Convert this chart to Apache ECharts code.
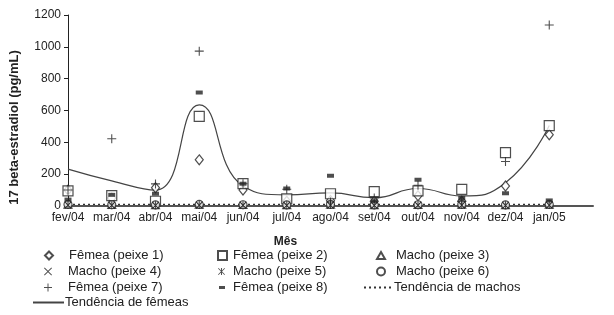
<!DOCTYPE html>
<html><head><meta charset="utf-8">
<script src="https://cdn.jsdelivr.net/npm/echarts@6/dist/echarts.min.js"></script>
<style>html,body{margin:0;padding:0;background:#fff}#c{width:614px;height:315px}</style>
</head><body><div id="c"></div>
<script>
const months = ['fev/04','mar/04','abr/04','mai/04','jun/04','jul/04','ago/04','set/04','out/04','nov/04','dez/04','jan/05'];
const yTicks = [0,200,400,600,800,1000,1200];
const femea1 = [100, 50, 115, 290, 100, 30, 35, 30, 65, 30, 126, 448];
const femea2 = [95, 65, 30, 563, 140, 45, 77, 90, 95, 105, 335, 505];
const macho3 = [8, 6, 5, 8, 6, 5, 8, 5, 6, 8, 5, 8];
const macho4 = [5, 4, 3, 5, 4, 3, 5, 3, 4, 5, 3, 5];
const macho5 = [6, 5, 4, 6, 5, 4, 6, 4, 5, 6, 4, 6];
const macho6 = [10, 8, 7, 10, 8, 7, 10, 7, 8, 10, 7, 10];
const femea7 = [100, 423, 139, 973, 140, 105, 25, 50, 130, 30, 280, 1137];
const femea8 = [40, 70, 77, 713, 140, 110, 190, 30, 165, 50, 80, 35];
const trendMachos = [10, 10, 10, 10, 10, 10, 10, 10, 10, 10, 10, 10];
const trendFemeas = [232, 158, 100, 635, 126, 70, 82, 52, 110, 63, 146, 505];

const FONT = '"Liberation Sans", Arial, sans-serif';
const INK = '#222';
const P_PLUS = 'path://M4.4,0H5.6V4.4H10V5.6H5.6V10H4.4V5.6H0V4.4H4.4Z';
const P_X = 'path://M0.8,0L5,4.2L9.2,0L10,0.8L5.8,5L10,9.2L9.2,10L5,5.8L0.8,10L0,9.2L4.2,5L0,0.8Z';
const P_AST = 'path://M0.8,0L5,4.2L9.2,0L10,0.8L5.8,5L10,9.2L9.2,10L5,5.8L0.8,10L0,9.2L4.2,5L0,0.8Z M4.3,0H5.7V10H4.3Z';
const P_DASH = 'path://M0,0H10V5H0Z';

function scat(name, data, symbol, size, hollow) {
  return {
    name, type: 'scatter', data, symbol, symbolSize: size,
    itemStyle: hollow ? {color: '#fff', borderColor: '#222', borderWidth: 1.2}
                      : {color: '#222', borderWidth: 0},
    z: hollow ? 3 : 4
  };
}

const series = [
  scat('Fêmea (peixe 1)', femea1, 'diamond', [8, 10], true),
  scat('Fêmea (peixe 2)', femea2, 'rect', [10, 10], true),
  scat('Macho (peixe 3)', macho3, 'triangle', [8, 7], true),
  scat('Macho (peixe 4)', macho4, P_X, [7, 7], false),
  scat('Macho (peixe 5)', macho5, P_AST, [7, 8], false),
  scat('Macho (peixe 6)', macho6, 'circle', [8, 8], true),
  scat('Fêmea (peixe 7)', femea7, P_PLUS, [9, 9], false),
  scat('Fêmea (peixe 8)', femea8, P_DASH, [7, 4], false),
  {name: 'Tendência de machos', type: 'line', data: trendMachos, symbol: 'none', color: '#333',
   lineStyle: {color: '#333', width: 1.2, type: [2, 3]}, z: 2},
  {name: 'Tendência de fêmeas', type: 'line', data: trendFemeas, symbol: 'none', smooth: 0.5, color: '#444',
   lineStyle: {color: '#444', width: 1.2}, z: 2}
];

// [name, left, top, iconW, iconH, textPadLeft, isLine]
const legendPos = [
  ['Fêmea (peixe 1)', 44, 249, 8, 8, 11], ['Fêmea (peixe 2)', 217, 249, 9, 9, 1], ['Macho (peixe 3)', 376, 249, 8, 7, 6],
  ['Macho (peixe 4)', 44, 265, 8, 8, 11], ['Macho (peixe 5)', 218, 265, 7, 8, 3], ['Macho (peixe 6)', 376, 265, 8, 8, 6],
  ['Fêmea (peixe 7)', 44, 281, 8, 8, 11], ['Fêmea (peixe 8)', 219, 281, 6, 4, 3], ['Tendência de machos', 363, 281, 29, 8, -4, true],
  ['Tendência de fêmeas', 32, 296, 31, 8, -4, true]
];
const legends = legendPos.map(([name, l, t, w, h, pad, isLine]) => {
  const lg = {
    data: [name], left: l, top: t, padding: 0, itemWidth: w, itemHeight: h,
    selectedMode: false,
    textStyle: {fontFamily: FONT, fontSize: 13, color: INK, padding: [0, 0, 0, pad]}
  };
  if (isLine) lg.itemStyle = {opacity: 0};
  return lg;
});

const chart = echarts.init(document.getElementById('c'), null, {renderer: 'canvas'});
chart.setOption({
  animation: false,
  backgroundColor: '#fff',
  grid: {left: 66, right: 21, top: 15, bottom: 109, containLabel: false},
  legend: legends,
  xAxis: {
    type: 'category', data: months.concat(['']), boundaryGap: false,
    name: 'Mês', nameLocation: 'middle', nameGap: 30,
    nameTextStyle: {fontFamily: FONT, fontSize: 12, fontWeight: 'bold', color: INK, padding: [0, 90, 0, 0]},
    axisLine: {lineStyle: {color: '#555', width: 2}},
    axisTick: {show: false},
    axisLabel: {fontFamily: FONT, fontSize: 12, color: INK, margin: 6, interval: 0},
    splitLine: {show: false}
  },
  yAxis: {
    type: 'value', min: yTicks[0], max: yTicks[yTicks.length - 1], interval: 200,
    name: '17 beta-estradiol (pg/mL)', nameLocation: 'middle', nameGap: 47, nameRotate: 90,
    nameTextStyle: {fontFamily: FONT, fontSize: 13, fontWeight: 'bold', color: INK, padding: [0, 34, 0, 0]},
    axisLine: {show: true, lineStyle: {color: '#222', width: 1}},
    axisTick: {show: true, length: 4, lineStyle: {color: '#222'}},
    axisLabel: {fontFamily: FONT, fontSize: 12, color: INK, margin: 7, formatter: v => String(v)},
    splitLine: {show: false}
  },
  series
});
</script></body></html>
